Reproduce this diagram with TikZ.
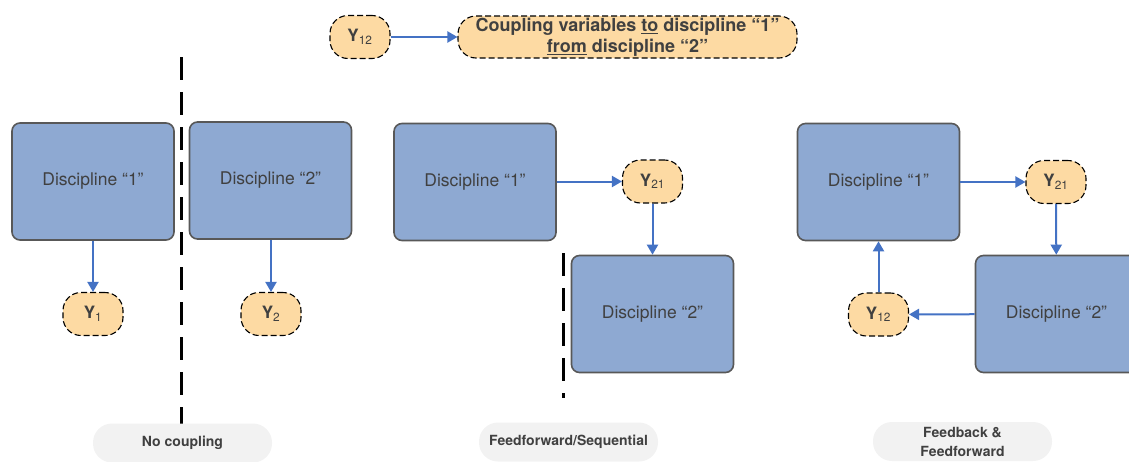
\documentclass[tikz,border=0pt]{standalone}
\usepackage{fontspec}
\setmainfont{TeX Gyre Heros}
\usetikzlibrary{arrows.meta}

\definecolor{discblue}{RGB}{142,169,210}
\definecolor{discedge}{RGB}{88,88,88}
\definecolor{varfill}{RGB}{253,218,163}
\definecolor{flowblue}{RGB}{68,114,196}
\definecolor{pillgray}{RGB}{242,242,242}
\definecolor{txtgray}{RGB}{64,64,64}

\begin{document}
\begin{tikzpicture}[x=1pt, y=-1pt,
    disc/.style={draw=discedge, line width=1.6pt, fill=discblue, rounded corners=8pt,
        minimum width=162pt, minimum height=117pt, text=txtgray,
        font=\fontsize{17.5}{20}\selectfont},
    yvar/.style={draw=black, dash pattern=on 6pt off 3pt, line width=1.1pt, fill=varfill,
        rounded corners=18pt, minimum width=60pt, minimum height=43pt, inner sep=0pt,
        text=txtgray, font=\fontsize{17}{20}\selectfont\bfseries},
    pill/.style={fill=pillgray, rounded corners=19pt, minimum width=179pt, minimum height=39pt,
        align=center, text=txtgray, font=\fontsize{14}{18}\selectfont\bfseries},
    flow/.style={draw=flowblue, line width=2pt, -{Triangle[length=10pt,width=11pt]}},
    split/.style={draw=black, line width=3pt, dash pattern=on 23pt off 12pt}]
    \useasboundingbox (0,0) rectangle (1129,461);

    % legend
    \node[yvar] (key) at (360,37) {Y\textsubscript{\mdseries 12}};
    \node[yvar, minimum width=339pt, minimum height=42pt, align=center,
          font=\fontsize{18}{21}\selectfont\bfseries] (keytext) at (627.5,37)
        {Coupling variables \underline{to} discipline “1”\\\underline{from} discipline “2”};
    \draw[flow] (key) -- (keytext);

    % no coupling
    \node[disc] (nc1) at (93,181.5) {Discipline “1”};
    \node[disc] (nc2) at (270.5,180.5) {Discipline “2”};
    \node[yvar] (ny1) at (93,314) {Y\textsubscript{\mdseries 1}};
    \node[yvar] (ny2) at (271,314) {Y\textsubscript{\mdseries 2}};
    \draw[flow] (nc1) -- (ny1);
    \draw[flow] (nc2.south -| ny2) -- (ny2);
    \coordinate (ncut1) at (181,57);
    \coordinate (ncut2) at (181,464);
    \draw[split] (ncut1) -- (ncut2);
    \node[pill] (nlab) at (182.5,443) {No coupling};

    % feedforward / sequential
    \node[disc] (ff1) at (475,182) {Discipline “1”};
    \node[yvar] (fy21) at (652.5,181.5) {Y\textsubscript{\mdseries 21}};
    \node[disc] (ff2) at (652.5,314) {Discipline “2”};
    \draw[flow] (ff1.east |- fy21) -- (fy21);
    \draw[flow] (fy21) -- (ff2);
    \coordinate (fcut1) at (563,253);
    \coordinate (fcut2) at (563,398);
    \draw[split] (fcut1) -- (fcut2);
    \node[pill] (flab) at (568.5,442) {Feedforward/Sequential};

    % feedback & feedforward
    \node[disc] (fb1) at (878.5,182) {Discipline “1”};
    \node[yvar] (by21) at (1056,182) {Y\textsubscript{\mdseries 21}};
    \node[disc] (fb2) at (1056.5,314) {Discipline “2”};
    \node[yvar] (by12) at (878.5,314.5) {Y\textsubscript{\mdseries 12}};
    \draw[flow] (fb1) -- (by21);
    \draw[flow] (by21) -- (fb2);
    \draw[flow] (fb2) -- (by12);
    \draw[flow] (by12) -- (fb1);
    \node[pill, font=\fontsize{14}{19}\selectfont\bfseries] (blab) at (962.5,441.5) {Feedback \&\\Feedforward};
\end{tikzpicture}
\end{document}
